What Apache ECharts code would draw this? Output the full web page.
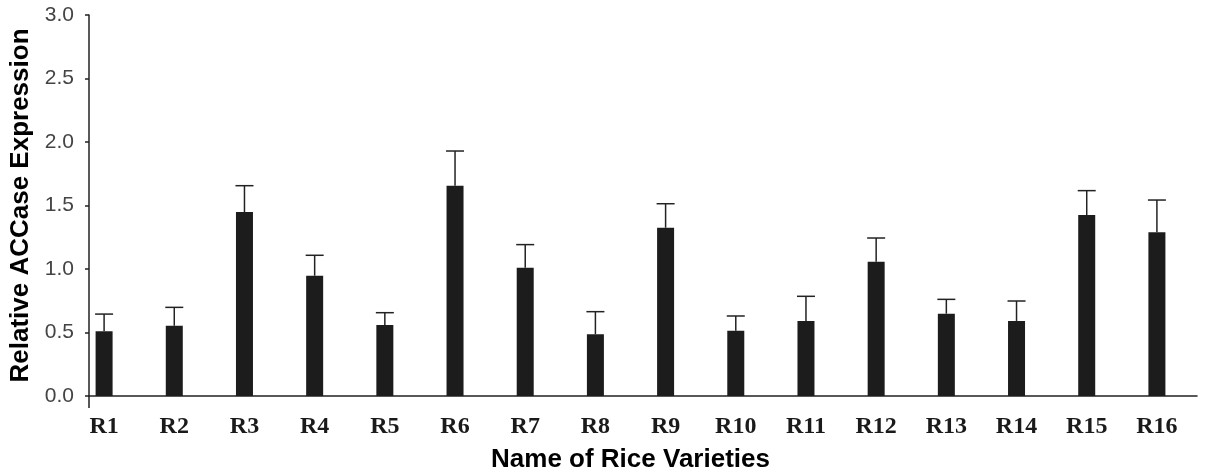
<!DOCTYPE html>
<html>
<head>
<meta charset="utf-8">
<script src="https://cdn.jsdelivr.net/npm/echarts@6/dist/echarts.min.js"></script>
<style>
html,body{margin:0;padding:0;background:#fff;}
#chart{width:1214px;height:475px;}
</style>
</head>
<body>
<div id="chart"></div>
<script>
const categories = ['R1','R2','R3','R4','R5','R6','R7','R8','R9','R10','R11','R12','R13','R14','R15','R16'];
const means = [0.51, 0.553, 1.449, 0.947, 0.559, 1.656, 1.010, 0.486, 1.325, 0.514, 0.591, 1.058, 0.648, 0.591, 1.425, 1.289];
const errors = [0.135, 0.145, 0.207, 0.161, 0.097, 0.273, 0.182, 0.178, 0.189, 0.116, 0.194, 0.186, 0.113, 0.157, 0.192, 0.254];
const yTicks = { min: 0, max: 3, interval: 0.5 };

const chart = echarts.init(document.getElementById('chart'), null, {renderer: 'canvas'});

const errData = categories.map((c, i) => [i, means[i], means[i] + errors[i]]);

const option = {
  animation: false,
  backgroundColor: '#ffffff',
  grid: [
    {left: 69, right: 22, top: 15, bottom: 79, containLabel: false, outerBoundsMode: 'none'},
    {left: 89, right: 17, top: 15, bottom: 79, containLabel: false, outerBoundsMode: 'none'}
  ],
  xAxis: [
    {
      type: 'category', gridIndex: 0, data: categories,
      axisLine: {show: false}, axisTick: {show: false},
      axisLabel: {
        margin: 19, color: '#1a1a1a', fontSize: 24, fontWeight: 'bold',
        fontFamily: '"Liberation Serif", "Times New Roman", serif', interval: 0
      },
      name: 'Name of Rice Varieties', nameLocation: 'middle', nameGap: 51,
      nameTextStyle: {fontSize: 26, fontWeight: 'bold', color: '#000',
        fontFamily: '"Liberation Sans", Arial, sans-serif'}
    },
    {
      type: 'category', gridIndex: 1, data: ['', ''], boundaryGap: false,
      axisLine: {show: true, lineStyle: {color: '#222', width: 1.5}},
      axisTick: {show: true, length: 12, interval: function (idx) { return idx === 0; },
        lineStyle: {color: '#222', width: 1.5}},
      axisLabel: {show: false}
    }
  ],
  yAxis: [
    {type: 'value', gridIndex: 0, min: yTicks.min, max: yTicks.max, interval: yTicks.interval, show: false},
    {
      type: 'value', gridIndex: 1, min: yTicks.min, max: yTicks.max, interval: yTicks.interval,
      axisLine: {show: true, lineStyle: {color: '#222', width: 1.5}},
      axisTick: {show: true, length: 4, lineStyle: {color: '#222', width: 1.5}},
      splitLine: {show: false},
      axisLabel: {
        margin: 15, color: '#444', fontSize: 21,
        fontFamily: '"Liberation Sans", Arial, sans-serif',
        formatter: function (v) { return v.toFixed(1); }
      },
      name: 'Relative ACCase Expression', nameLocation: 'middle', nameGap: 53,
      nameTextStyle: {fontSize: 26, fontWeight: 'bold', color: '#000',
        fontFamily: '"Liberation Sans", Arial, sans-serif'}
    }
  ],
  series: [
    {
      type: 'bar', xAxisIndex: 0, yAxisIndex: 0, data: means, barWidth: 17,
      itemStyle: {color: '#1c1c1c'}
    },
    {
      type: 'custom', xAxisIndex: 0, yAxisIndex: 0, data: errData, z: 3,
      renderItem: function (params, api) {
        const x = api.value(0);
        const base = api.coord([x, api.value(1)]);
        const top = api.coord([x, api.value(2)]);
        const hw = 9;
        const style = {stroke: '#222', lineWidth: 1.5, fill: null};
        return {
          type: 'group',
          children: [
            {type: 'line', shape: {x1: base[0], y1: base[1], x2: top[0], y2: top[1]}, style: style},
            {type: 'line', shape: {x1: top[0] - hw, y1: top[1], x2: top[0] + hw, y2: top[1]}, style: style}
          ]
        };
      }
    }
  ]
};
chart.setOption(option);
</script>
</body>
</html>
